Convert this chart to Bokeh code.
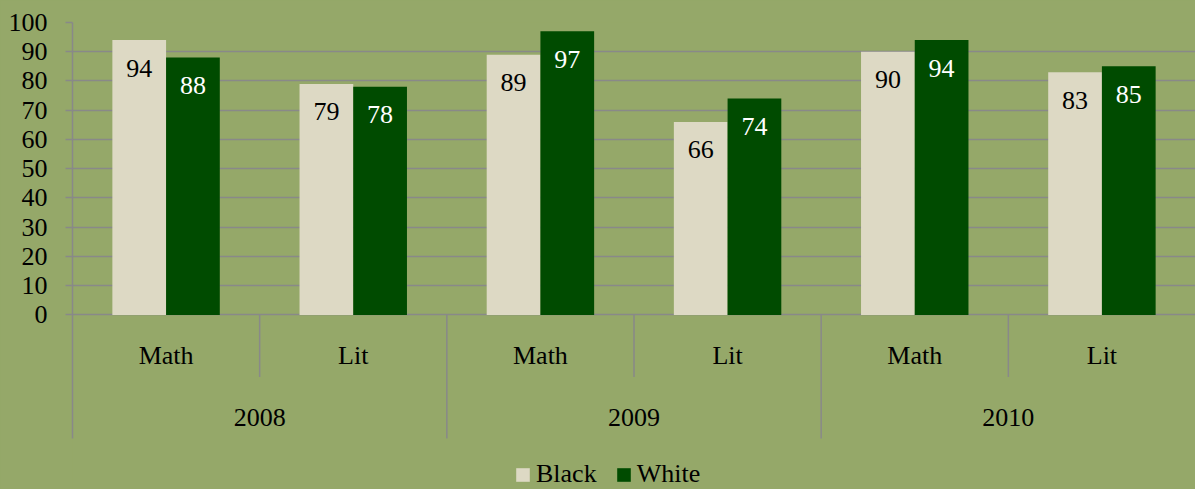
from bokeh.plotting import figure
from bokeh.models import (ColumnDataSource, FactorRange, Range1d, FixedTicker,
                          Legend, LegendItem, GlobalInlineStyleSheet)
from bokeh.transform import dodge
from bokeh.core.properties import value
from bokeh.embed import file_html
from bokeh.resources import INLINE

# ---- data ----
years = ["2008", "2009", "2010"]
subjects = ["Math", "Lit"]
series = ["Black", "White"]
black_vals = [94, 79, 89, 66, 90, 83]
white_vals = [88, 78, 97, 74, 94, 85]
y_ticks = [0, 10, 20, 30, 40, 50, 60, 70, 80, 90, 100]

factors = [(y, s) for y in years for s in subjects]

BG = "#95A869"
GRID = "#898989"
FONT = "Liberation Serif"
FS = "26px"
C_BLACK = "#DDD9C4"
C_WHITE = "#004B00"

AXIS_BOTTOM = -42.2

x_range = FactorRange(*factors, range_padding=0, group_padding=0,
                      factor_padding=0, subgroup_padding=0)

p = figure(x_range=x_range, y_range=Range1d(-59.66, 100),
           width=1195, height=489, output_backend="svg", toolbar_location=None,
           x_axis_location=None, min_border_left=72, min_border_right=0,
           min_border_top=22, min_border_bottom=0,
           background_fill_color=BG, border_fill_color=BG,
           outline_line_color=None)
p.stylesheets = [GlobalInlineStyleSheet(css="body { background: %s; }" % BG)]

BW = 0.287
src = ColumnDataSource(dict(
    x=factors, black=black_vals, white=white_vals,
    black_lbl=[str(v) for v in black_vals],
    white_lbl=[str(v) for v in white_vals],
    sub=[f[1] for f in factors],
))

rb = p.vbar(x=dodge("x", -BW / 2, range=x_range), top="black", width=BW,
            source=src, fill_color=C_BLACK, line_color=None)
rw = p.vbar(x=dodge("x", BW / 2, range=x_range), top="white", width=BW,
            source=src, fill_color=C_WHITE, line_color=None)

p.text(x=dodge("x", -BW / 2, range=x_range), y="black", text="black_lbl",
       source=src, text_align="center", text_baseline="middle", y_offset=28,
       text_font=value(FONT), text_font_size=FS, text_color="black")
p.text(x=dodge("x", BW / 2, range=x_range), y="white", text="white_lbl",
       source=src, text_align="center", text_baseline="middle", y_offset=28,
       text_font=value(FONT), text_font_size=FS, text_color="white")

# category labels (two levels)
p.text(x="x", y=-14, text="sub", source=src, text_align="center",
       text_baseline="middle", text_font=value(FONT), text_font_size=FS,
       text_color="black")
ysrc = ColumnDataSource(dict(x=years, t=years))
p.text(x="x", y=-35.2, text="t", source=ysrc, text_align="center",
       text_baseline="middle", text_font=value(FONT), text_font_size=FS,
       text_color="black")

# separators
sub_sep = ColumnDataSource(dict(x=[(y, "Math") for y in years]))
p.segment(x0=dodge("x", 0.5, range=x_range), y0=0,
          x1=dodge("x", 0.5, range=x_range), y1=-21.2,
          source=sub_sep, line_color=GRID, line_width=1.5)
yr_sep = ColumnDataSource(dict(x=[(y, "Math") for y in years[1:]]))
p.segment(x0=dodge("x", -0.5, range=x_range), y0=0,
          x1=dodge("x", -0.5, range=x_range), y1=AXIS_BOTTOM,
          source=yr_sep, line_color=GRID, line_width=1.5)

# y axis / grid
ticker = FixedTicker(ticks=y_ticks)
p.yaxis.ticker = ticker
p.ygrid.ticker = ticker
p.ygrid.grid_line_color = GRID
p.ygrid.grid_line_width = 1.5
p.xgrid.visible = False
ax = p.yaxis[0]
ax.bounds = (AXIS_BOTTOM, 100)
ax.axis_line_color = GRID
ax.axis_line_width = 1.5
ax.major_tick_line_color = GRID
ax.major_tick_line_width = 1.5
ax.major_tick_out = 7
ax.major_tick_in = 0
ax.minor_tick_line_color = None
ax.major_label_standoff = 18
ax.major_label_text_font = FONT
ax.major_label_text_font_size = FS
ax.major_label_text_color = "black"

legend = Legend(items=[LegendItem(label=series[0], renderers=[rb]),
                       LegendItem(label=series[1], renderers=[rw])],
                orientation="horizontal", location=(442, 0),
                background_fill_alpha=0, border_line_color=None,
                glyph_width=17, glyph_height=17, label_standoff=5, spacing=18,
                label_text_font=FONT, label_text_font_size=FS,
                label_text_color="black", padding=0, margin=0)
p.add_layout(legend)

open("out.html", "w").write(file_html(p, INLINE))
